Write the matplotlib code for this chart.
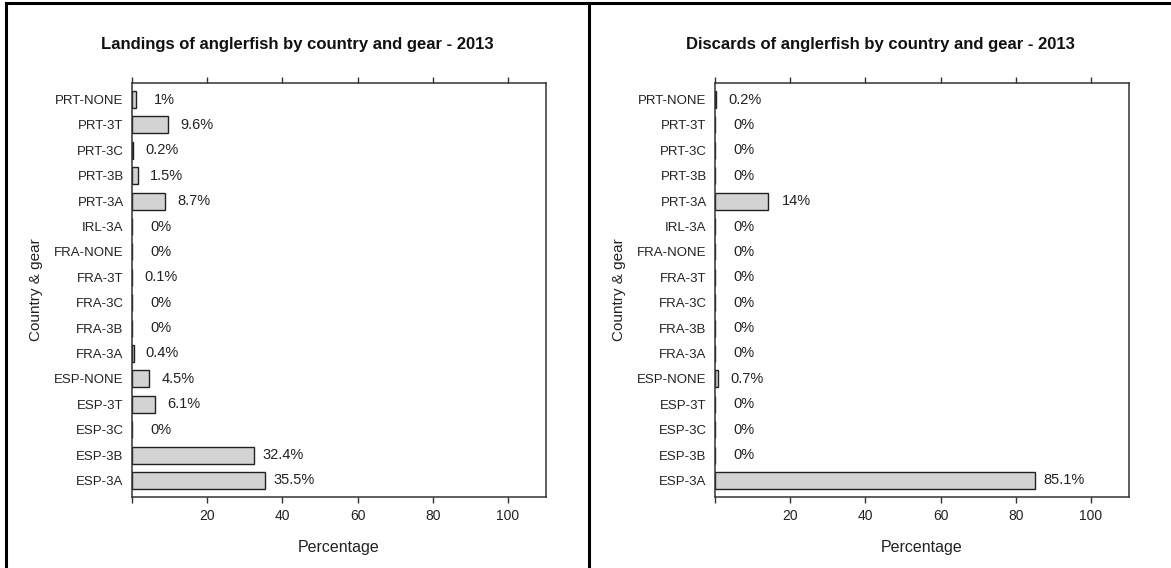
import matplotlib
matplotlib.use('Agg')
import matplotlib.pyplot as plt
from matplotlib.lines import Line2D

plt.rcParams['font.family'] = ['Liberation Sans', 'DejaVu Sans']

# categories from bottom to top
groups = ['ESP-3A', 'ESP-3B', 'ESP-3C', 'ESP-3T', 'ESP-NONE',
          'FRA-3A', 'FRA-3B', 'FRA-3C', 'FRA-3T', 'FRA-NONE',
          'IRL-3A', 'PRT-3A', 'PRT-3B', 'PRT-3C', 'PRT-3T', 'PRT-NONE']
landings = [35.5, 32.4, 0, 6.1, 4.5,
            0.4, 0, 0, 0.1, 0,
            0, 8.7, 1.5, 0.2, 9.6, 1]
discards = [85.1, 0, 0, 0, 0.7,
            0, 0, 0, 0, 0,
            0, 14, 0, 0, 0, 0.2]
titles = ['Landings of anglerfish by country and gear - 2013',
          'Discards of anglerfish by country and gear - 2013']
xticks = [0, 20, 40, 60, 80, 100]
xticklabels = ['', '20', '40', '60', '80', '100']

W, H = 1171, 568
fig = plt.figure(figsize=(W / 100, H / 100), dpi=100)

txt = '#222222'
axc = '#333333'

# panel frames
for x0, x1, y0, y1 in [(6, 1171, 3, 3), (6, 6, 3, 568), (589, 589, 3, 568)]:
    fig.add_artist(Line2D([x0 / W, x1 / W], [1 - y0 / H, 1 - y1 / H],
                          transform=fig.transFigure, color='black', lw=2.2))

lefts = [132, 715]
panel_centres = [297, 880]
for k, vals in enumerate([landings, discards]):
    ax = fig.add_axes([lefts[k] / W, 1 - 497 / H, 413.5 / W, 414 / H])
    ypos = list(range(len(groups)))
    ax.barh(ypos, vals, height=0.67, color='#d3d3d3', edgecolor='#222222', linewidth=1.0)
    for y, v in zip(ypos, vals):
        ax.text(v + 7.7, y, f'{v:g}%', ha='center', va='center', fontsize=10.5, color=txt)
    ax.set_xlim(0, 110)
    ax.set_ylim(-0.65, len(groups) - 1 + 0.65)
    ax.set_yticks(ypos)
    ax.set_yticklabels(groups)
    ax.set_xticks(xticks)
    ax.set_xticklabels(xticklabels)
    ax.tick_params(axis='y', length=0, pad=6, labelsize=9.5, labelcolor=txt)
    ax.tick_params(axis='x', length=4.5, width=1, color=axc, pad=4.5, labelsize=10,
                   labelcolor=txt, top=True, direction='out')
    for s in ax.spines.values():
        s.set_color(axc)
        s.set_linewidth(1.1)
    ax.set_xlabel('Percentage', fontsize=11.5, color=txt)
    ax.xaxis.set_label_coords(0.5, -0.104)
    ax.set_ylabel('Country & gear', fontsize=11, color=txt)
    ax.yaxis.set_label_coords(-0.215, 0.5)
    fig.text(panel_centres[k] / W, 1 - 45 / H, titles[k], ha='center', va='center',
             fontsize=12, fontweight='bold', color='#111111')

fig.savefig('out.png', dpi=100)
